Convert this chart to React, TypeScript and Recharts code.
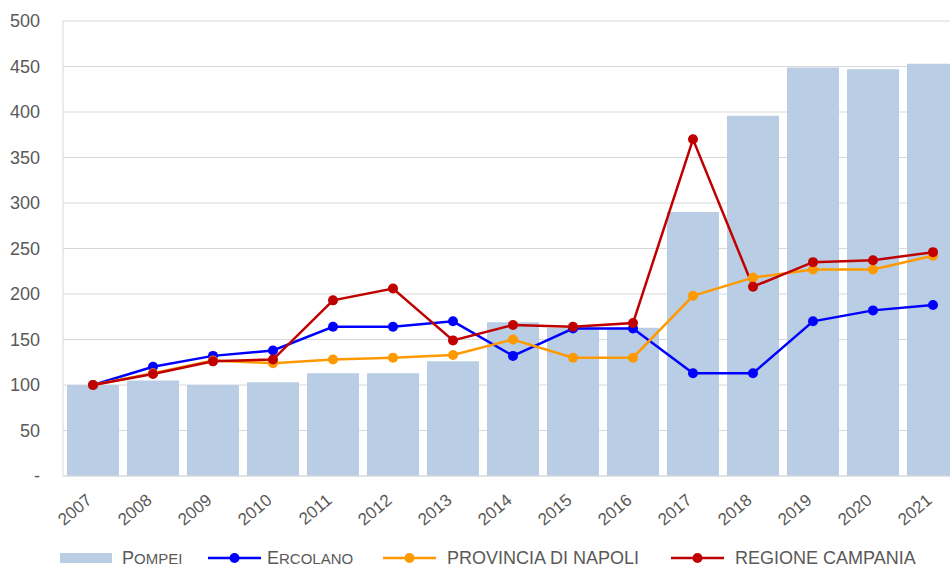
import React from 'react';
import {
  ComposedChart,
  Bar,
  Line,
  XAxis,
  YAxis,
  CartesianGrid,
  Legend,
} from 'recharts';

const years = ['2007', '2008', '2009', '2010', '2011', '2012', '2013', '2014', '2015', '2016', '2017', '2018', '2019', '2020', '2021'];
const pompei = [100, 105, 100, 103, 113, 113, 126, 169, 163, 163, 290, 396, 449, 447, 453];
const ercolano = [100, 120, 132, 138, 164, 164, 170, 132, 162, 162, 113, 113, 170, 182, 188];
const provinciaNapoli = [100, 113, 127, 124, 128, 130, 133, 150, 130, 130, 198, 218, 227, 227, 242];
const regioneCampania = [100, 112, 126, 128, 193, 206, 149, 166, 164, 168, 370, 208, 235, 237, 246];
const yTicks = [0, 50, 100, 150, 200, 250, 300, 350, 400, 450, 500];

const data = years.map((year, i) => ({
  year,
  pompei: pompei[i],
  ercolano: ercolano[i],
  provincia: provinciaNapoli[i],
  regione: regioneCampania[i],
}));

const FONT = '"Liberation Sans", Arial, sans-serif';
const TEXT = '#595959';

// legend entries, with where Excel placed them
const legendItems = [
  { label: 'Pompei', color: '#B9CDE5', kind: 'bar', caps: true, left: 60, textLeft: 122 },
  { label: 'Ercolano', color: '#0000FF', kind: 'line', caps: true, left: 208, textLeft: 267 },
  { label: 'PROVINCIA DI NAPOLI', color: '#FF9900', kind: 'line', caps: false, left: 383, textLeft: 447 },
  { label: 'REGIONE CAMPANIA', color: '#C00000', kind: 'line', caps: false, left: 671, textLeft: 735 },
];

// Excel-style small caps: first letter full size, rest as smaller capitals
function SmallCaps({ text }: { text: string }) {
  return (
    <>
      {text[0]}
      <span style={{ fontSize: 15 }}>{text.slice(1).toUpperCase()}</span>
    </>
  );
}

function ChartLegend() {
  return (
    <div style={{ position: 'relative', height: 27, fontFamily: FONT, fontSize: 18, color: TEXT }}>
      {legendItems.map((item) => (
        <React.Fragment key={item.label}>
          <svg width={54} height={14} style={{ position: 'absolute', left: item.left, top: 12 }}>
            {item.kind === 'bar' ? (
              <rect x={0} y={1} width={52} height={10} fill={item.color} />
            ) : (
              <>
                <line x1={0} y1={6} x2={53} y2={6} stroke={item.color} strokeWidth={2.5} />
                <circle cx={26.5} cy={6} r={5} fill={item.color} />
              </>
            )}
          </svg>
          <span
            style={{
              position: 'absolute',
              left: item.textLeft,
              top: 8,
              lineHeight: '20px',
              whiteSpace: 'nowrap',
            }}
          >
            {item.caps ? <SmallCaps text={item.label} /> : item.label}
          </span>
        </React.Fragment>
      ))}
    </div>
  );
}

function YearTick(props: any) {
  const { x, y, payload } = props;
  const ty = y + 24;
  return (
    <text
      x={x}
      y={ty}
      textAnchor="end"
      transform={`rotate(-40, ${x}, ${ty})`}
      fill={TEXT}
      fontSize={17}
      fontFamily={FONT}
    >
      {payload.value}
    </text>
  );
}

export default function App() {
  return (
    <div style={{ position: 'fixed', left: 0, top: 0, width: 950, height: 567, overflow: 'hidden', background: '#fff' }}>
      <ComposedChart
        width={963}
        height={567}
        data={data}
        margin={{ top: 21, right: 0, bottom: 0, left: 0 }}
      >
        <CartesianGrid vertical={false} stroke="#D9D9D9" />
        <XAxis
          dataKey="year"
          height={64}
          stroke="#D9D9D9"
          tickLine={false}
          tickSize={0}
          interval={0}
          tick={<YearTick />}
        />
        <YAxis
          width={63}
          domain={[0, 500]}
          ticks={yTicks}
          stroke="#D9D9D9"
          tickLine={false}
          tickSize={0}
          tickMargin={23}
          tick={{ fill: TEXT, fontSize: 18, fontFamily: FONT }}
          tickFormatter={(v: number) => (v === 0 ? '-' : String(v))}
        />
        <Legend
          verticalAlign="bottom"
          height={27}
          wrapperStyle={{ left: 0, bottom: 0, width: 950, height: 27 }}
          content={() => <ChartLegend />}
        />
        <Bar dataKey="pompei" name="Pompei" fill="#B9CDE5" barSize={52} isAnimationActive={false} />
        <Line dataKey="ercolano" name="Ercolano" stroke="#0000FF" strokeWidth={2.5} dot={{ r: 5, fill: '#0000FF', stroke: '#0000FF', strokeWidth: 0 }} activeDot={false} isAnimationActive={false} />
        <Line dataKey="provincia" name="PROVINCIA DI NAPOLI" stroke="#FF9900" strokeWidth={2.5} dot={{ r: 5, fill: '#FF9900', stroke: '#FF9900', strokeWidth: 0 }} activeDot={false} isAnimationActive={false} />
        <Line dataKey="regione" name="REGIONE CAMPANIA" stroke="#C00000" strokeWidth={2.5} dot={{ r: 5, fill: '#C00000', stroke: '#C00000', strokeWidth: 0 }} activeDot={false} isAnimationActive={false} />
      </ComposedChart>
    </div>
  );
}
